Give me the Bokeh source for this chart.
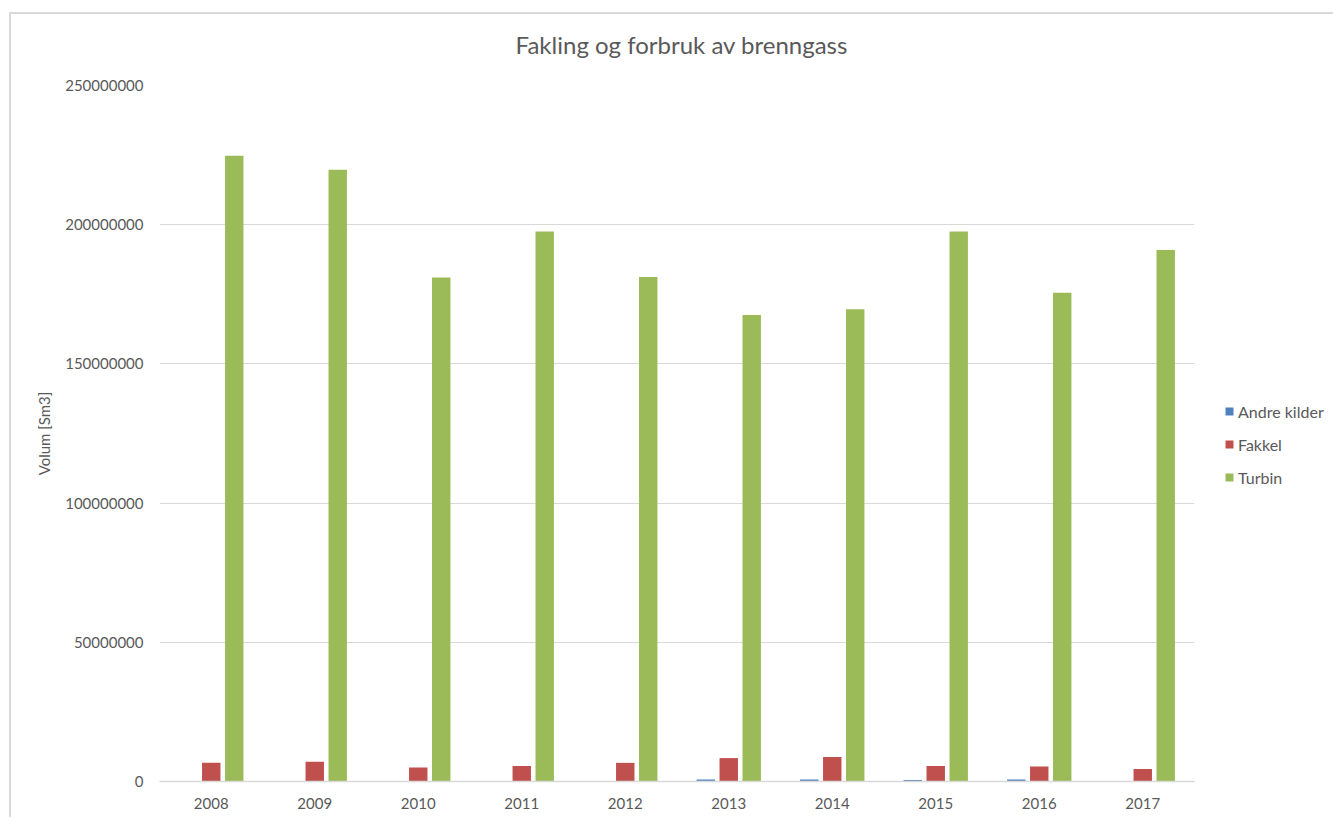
from bokeh.plotting import figure
from bokeh.layouts import column
from bokeh.models import (ColumnDataSource, Range1d, FixedTicker, NumeralTickFormatter,
                          Legend, LegendItem, Div)
from bokeh.transform import dodge
from bokeh.embed import file_html
from bokeh.resources import INLINE

# Volumes per year (Sm3)
years = ["2008", "2009", "2010", "2011", "2012", "2013", "2014", "2015", "2016", "2017"]
andre_kilder = [0, 0, 0, 0, 0, 700000, 700000, 500000, 700000, 0]
fakkel = [6700000, 7100000, 5000000, 5600000, 6700000, 8400000, 8800000, 5600000, 5400000, 4500000]
turbin = [224800000, 219700000, 181000000, 197600000, 181200000, 167600000, 169600000, 197600000, 175600000, 190900000]
y_ticks = [0, 50000000, 100000000, 150000000, 200000000, 250000000]

series_names = ["Andre kilder", "Fakkel", "Turbin"]
series_colors = ["#4f81bd", "#c0504d", "#9bbb59"]
chart_title = "Fakling og forbruk av brenngass"

FONT = "Lato"
TEXT = "#595959"
GRID = "#d9d9d9"

source = ColumnDataSource(dict(year=years, andre=andre_kilder, fakkel=fakkel, turbin=turbin))

p = figure(
    x_range=years,
    y_range=Range1d(0, 250000000),
    frame_width=1035, frame_height=696,
    output_backend="svg",
    toolbar_location=None,
    min_border_left=148, min_border_right=139,
    min_border_top=9, min_border_bottom=36,
)

p.outline_line_color = None
p.background_fill_color = "white"
p.border_fill_color = "white"

bar_w = 0.178
offsets = [-0.222, 0.0, 0.222]
fields = ["andre", "fakkel", "turbin"]
renderers = []
for f, off, col in zip(fields, offsets, series_colors):
    r = p.vbar(x=dodge("year", off, range=p.x_range), top=f, width=bar_w, source=source,
               fill_color=col, line_color=None)
    renderers.append(r)

# y axis
p.yaxis.ticker = FixedTicker(ticks=y_ticks)
p.yaxis.formatter = NumeralTickFormatter(format="0")
p.yaxis.axis_line_color = None
p.yaxis.major_tick_line_color = None
p.yaxis.minor_tick_line_color = None
p.yaxis.major_label_text_font = FONT
p.yaxis.major_label_text_font_size = "15px"
p.yaxis.major_label_text_color = TEXT
p.yaxis.major_label_standoff = 10
p.yaxis.axis_label = "Volum [Sm3]"
p.yaxis.axis_label_text_font = FONT
p.yaxis.axis_label_text_font_size = "15px"
p.yaxis.axis_label_text_font_style = "normal"
p.yaxis.axis_label_text_color = TEXT
p.yaxis.axis_label_standoff = 9

# x axis
p.xaxis.axis_line_color = GRID
p.xaxis.axis_line_width = 1.5
p.xaxis.major_tick_line_color = None
p.xaxis.minor_tick_line_color = None
p.xaxis.major_label_text_font = FONT
p.xaxis.major_label_text_font_size = "15px"
p.xaxis.major_label_text_color = TEXT
p.xaxis.major_label_standoff = 10

p.xgrid.grid_line_color = None
p.ygrid.grid_line_color = GRID
p.ygrid.grid_line_width = 1

legend = Legend(
    items=[LegendItem(label=n, renderers=[r]) for n, r in zip(series_names, renderers)],
    location=(30, 294),
    orientation="vertical",
    border_line_color=None,
    background_fill_alpha=0,
    padding=0, margin=0,
    spacing=13,
    glyph_width=10, glyph_height=10,
    label_height=20,
    label_standoff=4,
    label_text_font=FONT,
    label_text_font_size="16px",
    label_text_color=TEXT,
)
p.add_layout(legend, "right")

# chart heading, centred over the plot area
heading = Div(
    text=chart_title, width=1322, height=52,
    styles={"font-family": FONT, "font-size": "24px", "color": TEXT,
            "text-align": "center", "line-height": "52px", "padding-left": "9px"},
)

layout = column(
    heading, p, spacing=0,
    styles={"margin-left": "9px", "margin-top": "12px",
            "margin-bottom": "-20px", "vertical-align": "top",
            "border-left": "2px solid #d9d9d9", "border-top": "2px solid #d9d9d9"},
)

open("out.html", "w").write(file_html(layout, INLINE))
